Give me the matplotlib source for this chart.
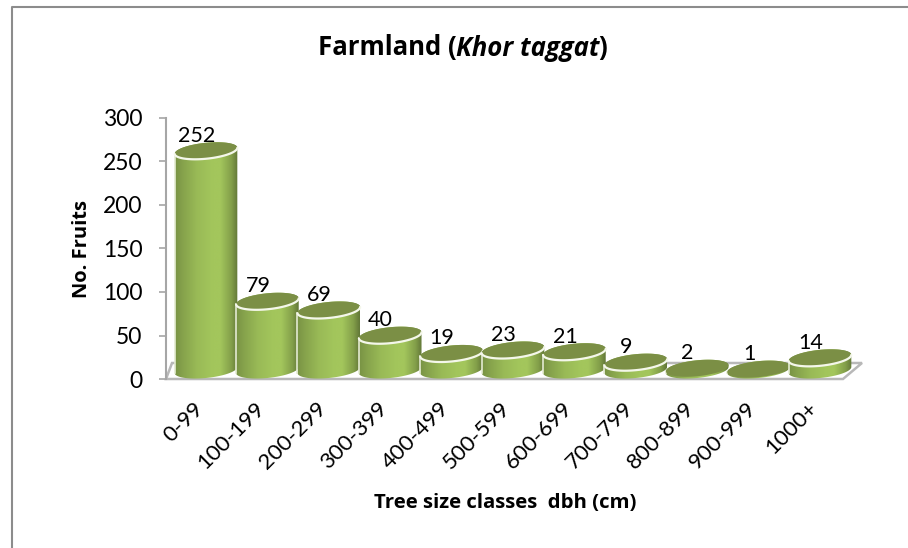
import matplotlib
matplotlib.use("Agg")
import matplotlib.pyplot as plt
import numpy as np
from matplotlib.lines import Line2D
from matplotlib.patches import Polygon

W, H = 908, 548

classes = ["0-99", "100-199", "200-299", "300-399", "400-499", "500-599",
           "600-699", "700-799", "800-899", "900-999", "1000+"]
fruits = [252, 79, 69, 40, 19, 23, 21, 9, 2, 1, 14]
yticks = [0, 50, 100, 150, 200, 250, 300]

plt.rcParams["font.family"] = ["Lato", "DejaVu Sans"]
bold_font = ["Open Sans", "DejaVu Sans"]

fig = plt.figure(figsize=(W / 100, H / 100), dpi=100)

# frame only has a top and a left line, the rest is cut off
fig.add_artist(Line2D([1, 11.5 / W, 11.5 / W], [1 - 7 / H, 1 - 7 / H, 0],
                      color="#8c8c8c", lw=1.5, transform=fig.transFigure))

x0, x1, ytop, ybot = 166, 862, 118, 379
ax = fig.add_axes([x0 / W, 1 - ybot / H, (x1 - x0) / W, (ybot - ytop) / H])
step = 61.4
for s in ax.spines.values():
    s.set_visible(False)
ax.set_xticks([])
ax.set_yticks(yticks)
ax.tick_params(axis="y", length=5, width=1.2, color="#a6a6a6", labelsize=16.5, pad=12)
ax.spines["left"].set_visible(True)
ax.spines["left"].set_color("#a6a6a6")
ax.spines["left"].set_linewidth(1.5)

# floor of the 3d box
px = lambda v: (v - 206) / step
unit = 300 / (ybot - ytop)
floor = [(px(166), 0), (px(843), 0), (px(862), 16 * unit), (px(172), 16 * unit)]
ax.add_patch(Polygon(floor, closed=True, fc="white", ec="#b8b8b8", lw=1.8, zorder=1,
                     clip_on=False))

shade = np.array([0.0, 0.12, 0.35, 0.6, 0.72, 0.9, 1.0])
vals = np.array([0.74, 0.82, 0.94, 1.0, 1.0, 0.8, 0.6])
green = np.array([163, 198, 92]) / 255
grad = np.interp(np.linspace(0, 1, 200), shade, vals)
img = (grad[None, :, None] * green[None, None, :]).clip(0, 1)

hw = 0.51
base = 9 * unit
ry = 8 * unit
tilt = 3 * unit
t = np.linspace(0, 2 * np.pi, 120)


def ellipse(i, yc):
    c, s = np.cos(t), np.sin(t)
    return np.column_stack([i + hw * c, yc + ry * s + tilt * c])


for i, v in enumerate(fruits):
    top = base + v
    z = 3 + i * 0.01
    e_low = ellipse(i, base)
    e_top = ellipse(i, top)
    body = Polygon(np.vstack([e_low[60:], e_top[:60]]), closed=True, fc="none", ec="none")
    ax.add_patch(body)
    im = ax.imshow(img, extent=[i - hw, i + hw, 0, top + ry + tilt], aspect="auto",
                   zorder=z, interpolation="bilinear")
    im.set_clip_path(body)
    # pale glow along the sides keeps neighbours apart
    ax.plot([i - hw, i - hw], [base - tilt, top - tilt], color="#e4ebd2", lw=1.2, zorder=z + 0.001)
    # white rim under the lid, then the lid itself
    ax.add_patch(Polygon(e_top, closed=True, fc="#7b8f45", ec="none", zorder=z + 0.002))
    if v > 2:
        ax.plot(e_top[60:, 0], e_top[60:, 1], color="#f4f7ea", lw=1.6, zorder=z + 0.003,
                solid_capstyle="round")
    ax.text(i - 0.155, top + 15 * unit, str(v), ha="center", va="center",
            fontsize=15.5, color="black", zorder=6)

ax.set_xlim((x0 - 206) / step, (x1 - 206) / step)
ax.set_ylim(0, 300)

for i, lab in enumerate(classes):
    ax.annotate(lab, (i, 0), xytext=(-4, -19), textcoords="offset points",
                rotation=45, ha="right", va="center", rotation_mode="anchor", fontsize=16)

fig.text(82 / W, 1 - 249 / H, "No. Fruits", rotation=90, ha="center", va="center",
         fontsize=14.5, fontweight="bold", family=bold_font)
fig.text(505 / W, 1 - 503 / H, "Tree size classes  dbh (cm)", ha="center", va="center",
         fontsize=14.7, fontweight="bold", family=bold_font)

# title has an italic middle so it is laid out piece by piece
rend = fig.canvas.get_renderer()
xpos = 318
for part, sty in [("Farmland (", "normal"), ("Khor taggat", "italic"), (")", "normal")]:
    tx = fig.text(xpos / W, 1 - 48 / H, part, ha="left", va="center", fontsize=18.5,
                  fontweight="bold", style=sty, family=bold_font)
    xpos = tx.get_window_extent(rend).x1 - 1

fig.savefig("out.png", dpi=100)
